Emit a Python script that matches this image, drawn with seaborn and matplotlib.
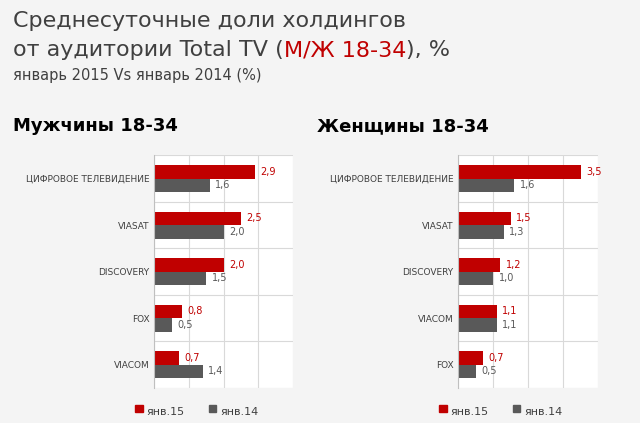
import matplotlib
matplotlib.use("Agg")
import matplotlib.pyplot as plt
import seaborn as sns
import pandas as pd

men_cats = ["ЦИФРОВОЕ ТЕЛЕВИДЕНИЕ", "VIASAT", "DISCOVERY", "FOX", "VIACOM"]
men_15 = [2.9, 2.5, 2.0, 0.8, 0.7]
men_14 = [1.6, 2.0, 1.5, 0.5, 1.4]
women_cats = ["ЦИФРОВОЕ ТЕЛЕВИДЕНИЕ", "VIASAT", "DISCOVERY", "VIACOM", "FOX"]
women_15 = [3.5, 1.5, 1.2, 1.1, 0.7]
women_14 = [1.6, 1.3, 1.0, 1.1, 0.5]
series = ["янв.15", "янв.14"]
colors = ["#c00000", "#595959"]

fig = plt.figure(figsize=(6.4, 4.23), dpi=100)
fig.patch.set_facecolor("#f4f4f4")
renderer = fig.canvas.get_renderer()

fig.text(0.02, 0.975, "Среднесуточные доли холдингов", fontsize=16, color="#404040", va="top")
x = 0.02
for part, col in [("от аудитории Total TV (", "#404040"), ("М/Ж 18-34", "#c00000"), ("), %", "#404040")]:
    t = fig.text(x, 0.905, part, fontsize=16, color=col, va="top")
    bb = t.get_window_extent(renderer=renderer)
    x += bb.width / fig.bbox.width
fig.text(0.02, 0.84, "январь 2015 Vs январь 2014 (%)", fontsize=10.5, color="#404040", va="top")

def panel(rect, title, cats, v15, v14):
    ax = fig.add_axes(rect)
    ax.set_facecolor("white")
    df = pd.DataFrame({"cat": cats * 2, "val": v15 + v14,
                       "series": [series[0]] * len(cats) + [series[1]] * len(cats)})
    sns.barplot(data=df, y="cat", x="val", hue="series", palette=colors,
                orient="h", ax=ax, width=0.58, saturation=1, legend=False)
    for c, col in zip(ax.containers, colors):
        ax.bar_label(c, labels=[f"{v:.1f}".replace(".", ",") for v in c.datavalues],
                     padding=4, fontsize=7, color=col)
    ax.set_xlim(0, 4)
    ax.set_xticks([0, 1, 2, 3, 4])
    ax.set_xticklabels([])
    ax.tick_params(length=0)
    ax.set_yticks([i + 0.5 for i in range(-1, len(cats))], minor=True)
    ax.grid(True, axis="x", color="#d9d9d9", lw=0.8)
    ax.grid(True, axis="y", which="minor", color="#d9d9d9", lw=0.8)
    ax.set_axisbelow(True)
    ax.set_ylim(len(cats) - 0.5, -0.5)
    ax.set_xlabel("")
    ax.set_ylabel("")
    ax.tick_params(axis="y", labelsize=6.5, colors="#404040", which="both", length=0)
    for s in ["top", "right", "bottom"]:
        ax.spines[s].set_visible(False)
    ax.spines["left"].set_color("#bfbfbf")
    x0 = rect[0]
    fig.text(x0 - 0.22, 0.69, title, fontsize=13, fontweight="bold", color="black")
    ly = 0.02
    fig.patches.append(plt.Rectangle((x0 - 0.03, ly + 0.005), 0.012, 0.018,
                                     transform=fig.transFigure, color=colors[0]))
    fig.text(x0 - 0.012, ly, series[0], fontsize=8, color="#404040")
    fig.patches.append(plt.Rectangle((x0 + 0.085, ly + 0.005), 0.012, 0.018,
                                     transform=fig.transFigure, color=colors[1]))
    fig.text(x0 + 0.103, ly, series[1], fontsize=8, color="#404040")

panel([0.241, 0.083, 0.217, 0.55], "Мужчины 18-34", men_cats, men_15, men_14)
panel([0.716, 0.083, 0.219, 0.55], "Женщины 18-34", women_cats, women_15, women_14)

fig.savefig("out.png", dpi=100, facecolor=fig.get_facecolor())
